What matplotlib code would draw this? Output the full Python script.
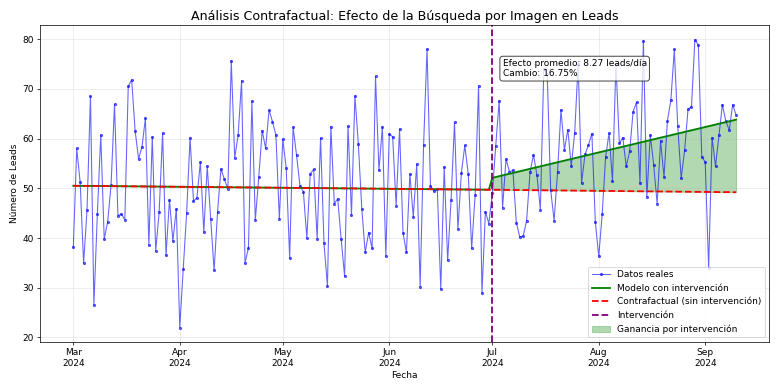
import numpy as np
import pandas as pd
import matplotlib
matplotlib.use("Agg")
import matplotlib.pyplot as plt
import matplotlib.dates as mdates

# Leads diarios (1 mar - 10 sep 2024)
marzo = [38.1, 58.0, 51.2, 34.9, 45.7, 68.5, 26.5, 44.8, 60.7, 39.8,
         43.2, 50.7, 66.9, 44.5, 44.8, 43.7, 70.5, 71.8, 61.6, 55.9,
         58.3, 64.1, 38.6, 60.3, 37.4, 45.2, 61.1, 36.5, 47.7, 39.4, 45.9]
abril = [22.0, 33.7, 45.0, 60.2, 47.4, 48.1, 55.3, 41.2, 54.4, 43.9,
         33.5, 45.2, 53.9, 51.8, 49.9, 75.6, 56.1, 60.7, 71.6, 35.0,
         38.0, 67.5, 43.6, 52.2, 61.6, 58.0, 65.7, 63.4, 60.7, 43.8]
mayo = [59.9, 54.0, 35.9, 62.3, 56.7, 50.5, 49.3, 40.0, 52.9, 53.8,
        39.8, 60.1, 38.9, 30.3, 62.4, 46.9, 47.9, 39.7, 32.3, 62.5,
        44.6, 68.6, 58.9, 45.9, 37.1, 41.1, 37.9, 72.5, 53.6, 62.4, 36.3]
junio = [61.0, 60.3, 46.5, 61.9, 41.1, 37.1, 52.9, 44.2, 54.9, 30.2,
         58.7, 78.0, 50.5, 49.4, 49.8, 29.7, 54.3, 35.5, 47.6, 63.3,
         41.8, 53.1, 58.6, 52.9, 37.9, 48.6, 70.6, 28.9, 45.3, 42.9]
julio = [49.0, 58.5, 67.6, 46.1, 55.9, 53.3, 53.6, 43.1, 40.2, 40.4,
         43.5, 53.3, 56.7, 52.7, 45.7, 74.0, 73.0, 49.7, 43.5, 53.2,
         65.8, 57.7, 61.8, 54.4, 61.2, 75.0, 51.1, 56.8, 58.7, 61.0, 43.3]
agosto = [36.3, 44.8, 56.3, 61.1, 51.4, 75.0, 59.0, 60.2, 54.4, 57.4,
          65.4, 67.3, 51.0, 79.7, 48.2, 60.7, 54.7, 46.9, 59.5, 52.3,
          63.6, 67.7, 77.9, 62.5, 52.0, 57.6, 65.9, 66.4, 79.9, 78.8, 56.3]
septiembre = [55.3, 34.0, 60.2, 54.4, 60.7, 66.8, 63.5, 61.7, 66.8, 64.7]

leads = marzo + abril + mayo + junio + julio + agosto + septiembre
fechas = pd.date_range("2024-03-01", periods=len(leads), freq="D")

fecha_intervencion = pd.Timestamp("2024-07-01")

# Rectas del modelo (extremos)
fechas_modelo = pd.to_datetime(["2024-03-01", "2024-06-30", "2024-07-01", "2024-09-10"])
valores_modelo = [50.5, 49.7, 52.1, 63.8]
fechas_contra = pd.to_datetime(["2024-03-01", "2024-07-01", "2024-09-10"])
valores_contra = [50.5, 49.7, 49.2]

texto_efecto = "Efecto promedio: 8.27 leads/día\nCambio: 16.75%"

fig, ax = plt.subplots(figsize=(12, 6.008), dpi=779 / 12)

ax.plot(fechas, leads, "b.-", alpha=0.6, markersize=5, linewidth=1.2, label="Datos reales")
ax.plot(fechas_modelo, valores_modelo, "g-", linewidth=2, label="Modelo con intervención")
ax.plot(fechas_contra, valores_contra, "r--", linewidth=2, label="Contrafactual (sin intervención)")
ax.axvline(fecha_intervencion, color="purple", linestyle="--", linewidth=2, label="Intervención")
ax.fill_between(fechas_contra[1:], valores_contra[1:], valores_modelo[2:],
                color="green", alpha=0.3, label="Ganancia por intervención")

ax.text(fecha_intervencion + pd.Timedelta(days=3), 76, texto_efecto, va="top",
        bbox=dict(boxstyle="round", facecolor="white", alpha=0.8))

ax.set_title("Análisis Contrafactual: Efecto de la Búsqueda por Imagen en Leads", fontsize=14)
ax.set_xlabel("Fecha")
ax.set_ylabel("Número de Leads")
ax.xaxis.set_major_locator(mdates.MonthLocator())
ax.xaxis.set_major_formatter(mdates.DateFormatter("%b\n%Y"))
ax.grid(True, alpha=0.3)
ax.legend(loc="lower right")

plt.tight_layout()
plt.savefig("out.png")
